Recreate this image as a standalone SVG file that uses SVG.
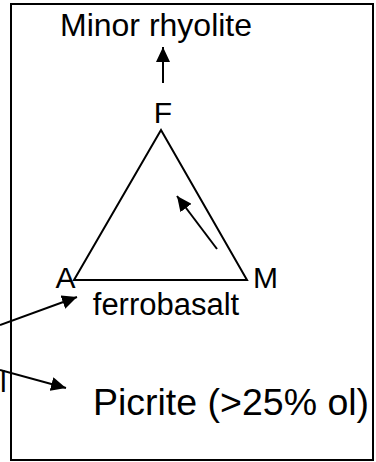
<svg xmlns="http://www.w3.org/2000/svg" width="376" height="462" viewBox="0 0 376 462">
  <style>
    .t { font-family: "Liberation Sans", Arial, sans-serif; fill: #000; }
    .ln { stroke: #000; stroke-width: 2; fill: none; }
    .ar { stroke: #000; stroke-width: 2; fill: none; marker-end: url(#ah); }
  </style>
  <defs>
    <marker id="ah" markerUnits="userSpaceOnUse" markerWidth="16" markerHeight="14" refX="15" refY="7" orient="auto">
      <path d="M0,0 L15,7 L0,14 z" fill="#000"/>
    </marker>
  </defs>
  <rect width="376" height="462" fill="#fff"/>
  <g id="frame">
    <rect x="11" y="4" width="362" height="456" class="ln"/>
  </g>
  <g id="triangle">
    <polygon points="161,130 74,280 247,280" class="ln"/>
  </g>
  <g id="node-rhyolite">
    <text class="t" x="156" y="36" font-size="32" text-anchor="middle">Minor rhyolite</text>
  </g>
  <g id="node-F">
    <text class="t" x="163" y="123" font-size="30" text-anchor="middle">F</text>
  </g>
  <g id="node-A">
    <text class="t" x="65.5" y="288" font-size="30" text-anchor="middle">A</text>
  </g>
  <g id="node-M">
    <text class="t" x="265.5" y="288" font-size="30" text-anchor="middle">M</text>
  </g>
  <g id="node-ferrobasalt">
    <text class="t" x="166" y="315" font-size="31" text-anchor="middle">ferrobasalt</text>
  </g>
  <g id="node-picrite">
    <text class="t" x="231" y="415" font-size="37.5" text-anchor="middle">Picrite (&gt;25% ol)</text>
  </g>
  <g id="node-cut">
    <text class="t" x="0" y="392" font-size="30">l</text>
  </g>
  <g id="connectors">
    <line x1="163" y1="83" x2="163" y2="47" class="ar"/>
    <line x1="217" y1="249" x2="177" y2="196" class="ar"/>
    <line x1="0" y1="325" x2="77" y2="297" class="ar"/>
    <line x1="0" y1="370" x2="66" y2="388" class="ar"/>
  </g>
</svg>
